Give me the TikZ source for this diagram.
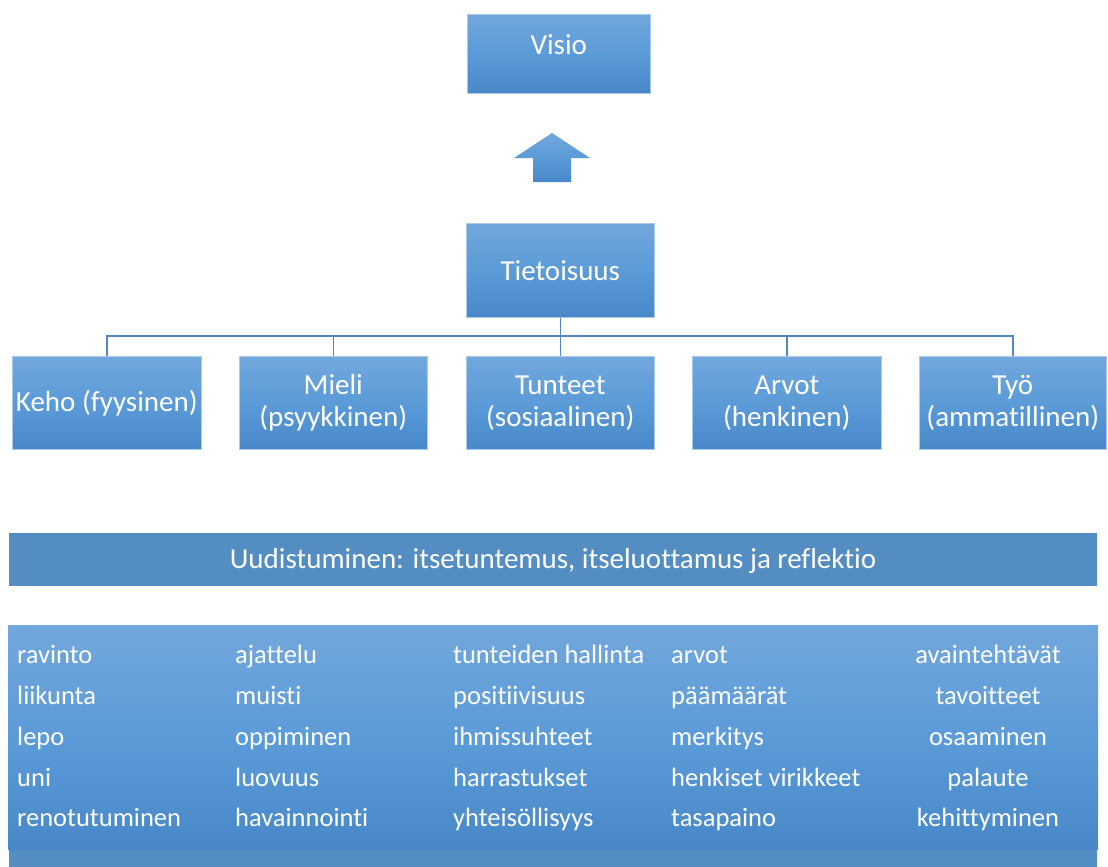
\documentclass[tikz,border=0pt]{standalone}
\usepackage{fontspec}
\setmainfont{Carlito}[Ligatures=NoCommon]
\usetikzlibrary{calc}

\definecolor{boxtop}{HTML}{72A7DC}
\definecolor{boxmid}{HTML}{5B9BD8}
\definecolor{boxbot}{HTML}{4888C8}
\definecolor{bandblue}{HTML}{548DC2}
\definecolor{linkblue}{HTML}{5287C2}

\tikzset{
  blueshade/.style={top color=boxtop, bottom color=boxbot, middle color=boxmid},
  box/.style={blueshade, draw=boxtop!60!white, line width=0.6pt, rectangle,
    inner sep=0pt, anchor=north west, text=white, align=center,
    font=\fontsize{29}{32}\selectfont},
  boxtext/.style={text=white, inner sep=0pt, font=\fontsize{29}{32}\selectfont},
  conn/.style={draw=linkblue, line width=1.5pt},
  item/.style={text=white, inner sep=0pt, anchor=base west,
    font=\fontsize{26.5}{30}\selectfont},
  itemc/.style={item, anchor=base},
}

\begin{document}
\begin{tikzpicture}[x=1pt, y=-1pt]
\useasboundingbox (0,0) rectangle (1108,867);

% top of the hierarchy
\node[box, minimum width=183pt, minimum height=79pt] (visio) at (467,14) {};
\node[boxtext] (visiotxt) at ($(visio.north)+(0,31)$) {Visio};

% upward arrow
\path[blueshade] (552,133) -- (590,158) -- (571,158) -- (571,182)
  -- (533,182) -- (533,158) -- (514,158) -- cycle;

\node[box, minimum width=188pt, minimum height=94pt] (tieto) at (466,223) {Tietoisuus};

% five dimensions
\node[box, minimum width=189pt, minimum height=93pt] (keho) at (12,356) {Keho (fyysinen)};
\node[box, minimum width=188pt, minimum height=93pt] (mieli) at (239,356) {Mieli\\(psyykkinen)};
\node[box, minimum width=188pt, minimum height=93pt] (tunteet) at (466,356) {Tunteet\\(sosiaalinen)};
\node[box, minimum width=189pt, minimum height=93pt] (arvot) at (692,356) {Arvot\\(henkinen)};
\node[box, minimum width=187pt, minimum height=93pt] (tyo) at (919,356) {Työ\\(ammatillinen)};

% connectors
\coordinate (bus) at (560,336);
\foreach \c in {keho,mieli,tunteet,arvot,tyo}
  \draw[conn] (tieto.south) -- (tieto.south |- bus) -| (\c.north);

% renewal band
\fill[bandblue] (9,533) rectangle (1097,586);
\node[boxtext, anchor=base] (band) at (553,568)
  {Uudistuminen: itsetuntemus, itseluottamus ja reflektio};

% detail panel
\fill[bandblue] (9,840) rectangle (1097,867);
\path[blueshade] (8,625) rectangle (1098,849);

\node[item] (a1) at (17,663) {ravinto};
\node[item] (a2) at (17,704) {liikunta};
\node[item] (a3) at (17,745) {lepo};
\node[item] (a4) at (17,786) {uni};
\node[item] (a5) at (17,826) {renotutuminen};

\node[item] (b1) at (235,663) {ajattelu};
\node[item] (b2) at (235,704) {muisti};
\node[item] (b3) at (235,745) {oppiminen};
\node[item] (b4) at (235,786) {luovuus};
\node[item] (b5) at (235,826) {havainnointi};

\node[item] (c1) at (453,663) {tunteiden hallinta};
\node[item] (c2) at (453,704) {positiivisuus};
\node[item] (c3) at (453,745) {ihmissuhteet};
\node[item] (c4) at (453,786) {harrastukset};
\node[item] (c5) at (453,826) {yhteisöllisyys};

\node[item] (d1) at (671,663) {arvot};
\node[item] (d2) at (671,704) {päämäärät};
\node[item] (d3) at (671,745) {merkitys};
\node[item] (d4) at (671,786) {henkiset virikkeet};
\node[item] (d5) at (671,826) {tasapaino};

\node[itemc] (e1) at (988,663) {avaintehtävät};
\node[itemc] (e2) at (988,704) {tavoitteet};
\node[itemc] (e3) at (988,745) {osaaminen};
\node[itemc] (e4) at (988,786) {palaute};
\node[itemc] (e5) at (988,826) {kehittyminen};
\end{tikzpicture}
\end{document}
